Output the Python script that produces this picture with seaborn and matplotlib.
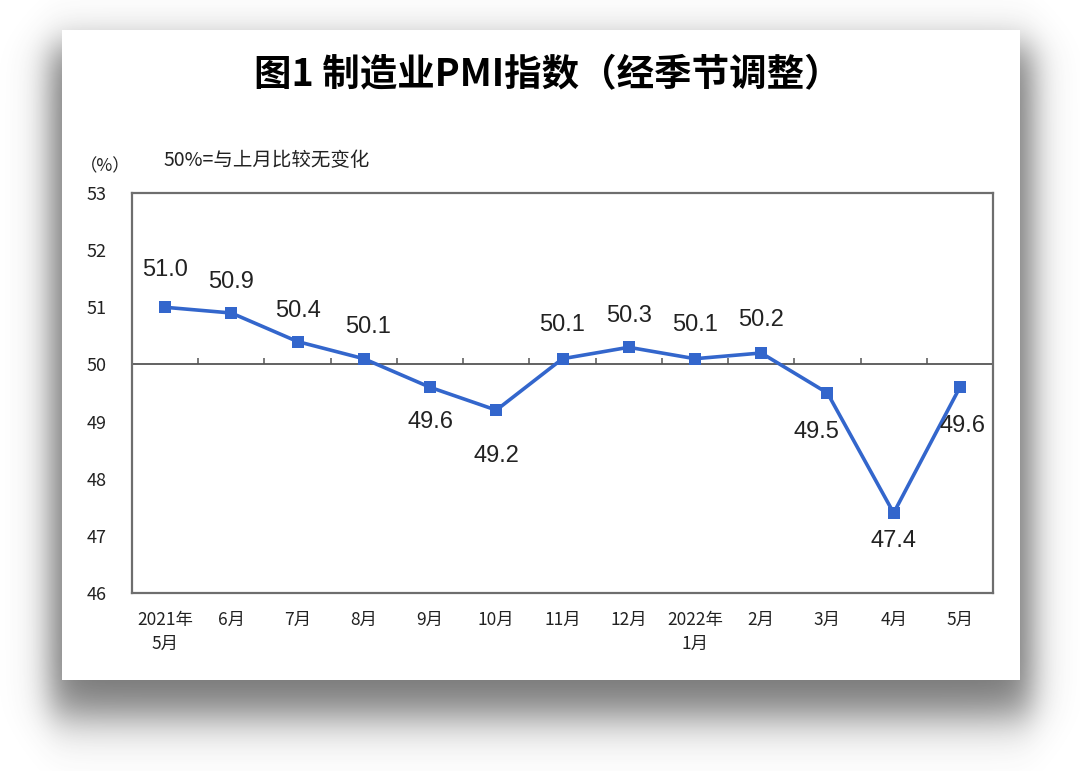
import numpy as np
import pandas as pd
import matplotlib.pyplot as plt
import seaborn as sns

# 数据：制造业PMI（经季节调整）
months = ["2021年\n5月", "6月", "7月", "8月", "9月", "10月", "11月", "12月",
          "2022年\n1月", "2月", "3月", "4月", "5月"]
pmi = [51.0, 50.9, 50.4, 50.1, 49.6, 49.2, 50.1, 50.3, 50.1, 50.2, 49.5, 47.4, 49.6]
yticks = [46, 47, 48, 49, 50, 51, 52, 53]
# 数据标签相对于点的偏移（像素）
label_dx = [0, 0, 0, 4, 0, 0, 0, 0, 0, 0, -11, 0, 3]
label_dy = [37, 31, 31, 32, -35, -46, 34, 31, 34, 33, -39, -28, -39]

W, H = 1080, 771
LINE_BLUE = "#3366CC"

sns.set_theme(style="white")
plt.rcParams["font.family"] = ["Noto Sans CJK SC", "DejaVu Sans"]

fig = plt.figure(figsize=(W / 100, H / 100), dpi=100)
fig.patch.set_facecolor("white")

# 背景：卡片阴影 + 白色卡片
bg = fig.add_axes([0, 0, 1, 1], zorder=-10)
bg.set_xlim(0, W)
bg.set_ylim(H, 0)
bg.axis("off")
xx = np.arange(W)[None, :]
yy = np.arange(H)[:, None]
sig = lambda v: 1 / (1 + np.exp(-v))
alpha = sig((xx - 50) / 10) * sig((1032 - xx) / 10) * sig((yy - 45) / 12) * sig((716 - yy) / 14)
shadow = np.zeros((H, W, 4))
shadow[..., :3] = 0.25
shadow[..., 3] = alpha * 0.72
bg.imshow(shadow, extent=(0, W, H, 0), interpolation="bilinear")
bg.add_patch(plt.Rectangle((62, 30), 958, 650, facecolor="white", edgecolor="none"))

# 主图
ax = fig.add_axes([132 / W, 1 - 593 / H, 861 / W, 400 / H])
df = pd.DataFrame({"x": np.arange(len(months)), "pmi": pmi})
sns.lineplot(data=df, x="x", y="pmi", ax=ax, color=LINE_BLUE, linewidth=2.6,
             marker="s", markersize=8, markeredgewidth=0, sort=False)

ax.set_xlim(-0.5, len(months) - 0.5)
ax.set_ylim(46, 53)
ax.set_yticks(yticks, labels=[str(t) for t in yticks], fontsize=13,
              fontweight="medium", color="#222222")
ax.set_xticks(df["x"])
ax.set_xticklabels(months, fontsize=12.5, fontweight="medium", color="#222222",
                   linespacing=1.45, va="top")
ax.tick_params(axis="x", length=0, pad=13)
ax.tick_params(axis="y", direction="in", length=6, width=1, color="#555555", pad=18)
ax.set_xlabel("")
ax.set_ylabel("")
for s in ax.spines.values():
    s.set_color("#6e6e6e")
    s.set_linewidth(1.6)

# 50 基准线及其刻度
ax.axhline(50, color="#555555", linewidth=1.3, zorder=1)
ax.vlines(df["x"][:-1] + 0.5, 50, 50.11, color="#555555", linewidth=1.1, zorder=1)

# 数据标签
for i, v in enumerate(pmi):
    ax.annotate(f"{v:.1f}", (i, v), xytext=(label_dx[i], label_dy[i]),
                textcoords="offset pixels", ha="center", va="center",
                fontsize=17, color="#222222", family=["Liberation Sans", "DejaVu Sans"])

# 标题与注释
fig.text(548 / W, 1 - 75 / H, "图1 制造业PMI指数（经季节调整）", ha="center", va="center",
         fontsize=27, fontweight="bold", color="black")
fig.text(105 / W, 1 - 166 / H, "（%）", ha="center", va="center", fontsize=12.5,
         fontweight="medium", color="#222222")
fig.text(163 / W, 1 - 161 / H, "50%=与上月比较无变化", ha="left", va="center",
         fontsize=14, fontweight="medium", color="#222222")

fig.savefig("out.png", dpi=100)
